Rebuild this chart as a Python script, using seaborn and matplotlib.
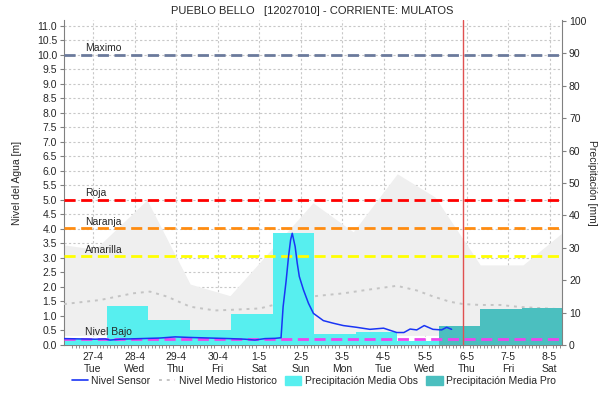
import numpy as np
import pandas as pd
import matplotlib
matplotlib.use('Agg')
import matplotlib.pyplot as plt
import seaborn as sns
from matplotlib.lines import Line2D
from matplotlib.patches import Patch

# x is measured in days, 0 = 27-4
tick_dates = ['27-4', '28-4', '29-4', '30-4', '1-5', '2-5', '3-5', '4-5', '5-5', '6-5', '7-5', '8-5']
tick_days = ['Tue', 'Wed', 'Thu', 'Fri', 'Sat', 'Sun', 'Mon', 'Tue', 'Wed', 'Thu', 'Fri', 'Sat']

sensor_x = [-0.70, -0.31, 0.05, 0.29, 0.41, 0.65, 1.13, 1.61, 1.98, 2.34, 2.82, 3.30, 3.66, 3.90,
            4.14, 4.39, 4.53, 4.58, 4.65, 4.71, 4.76, 4.80, 4.87, 4.92, 4.97, 5.07, 5.19, 5.31,
            5.55, 5.79, 6.03, 6.35, 6.67, 7.00, 7.32, 7.49, 7.64, 7.80, 7.98, 8.19, 8.40, 8.52, 8.64]
sensor_y = [0.22, 0.21, 0.20, 0.21, 0.17, 0.20, 0.22, 0.24, 0.28, 0.26, 0.24, 0.22, 0.20, 0.17,
            0.22, 0.23, 0.25, 1.32, 2.18, 3.04, 3.62, 3.85, 3.39, 2.82, 2.36, 1.90, 1.44, 1.09,
            0.84, 0.75, 0.67, 0.61, 0.54, 0.58, 0.43, 0.43, 0.55, 0.52, 0.67, 0.54, 0.52, 0.61, 0.54]

hist_x = [-0.70, 0.17, 0.96, 1.37, 1.78, 2.34, 2.94, 3.30, 4.02, 4.51, 4.99, 5.39, 6.03, 6.60,
          7.32, 7.80, 8.20, 8.60, 8.92, 9.33, 9.81, 10.29, 11.30]
hist_y = [1.41, 1.55, 1.78, 1.84, 1.67, 1.32, 1.19, 1.21, 1.26, 1.44, 1.61, 1.69, 1.78, 1.90,
          2.04, 1.88, 1.67, 1.49, 1.41, 1.38, 1.38, 1.31, 1.23]

band_x = [-0.70, 0.05, 1.30, 2.34, 3.30, 5.30, 6.27, 7.33, 8.24, 9.33, 10.36, 11.30]
band_hi = [3.45, 3.30, 5.00, 2.10, 1.70, 4.90, 3.90, 5.90, 5.10, 2.76, 2.76, 3.86]
band_lo = [0.33, 0.33, 0.33, 0.33, 0.33, 0.33, 0.33, 0.33, 0.33, 0.33, 0.33, 0.33]

obs_start = [-0.67, 0.33, 1.33, 2.33, 3.33, 4.33, 5.33, 6.33, 7.33]
obs_mm = [1.9, 12.1, 7.7, 4.6, 9.6, 34.6, 3.4, 4.1, 1.2]
pro_start = [8.33, 9.33, 10.33]
pro_mm = [5.9, 11.2, 11.5]

levels = [('Maximo', 10.0, '#6b7a9c'), ('Roja', 5.0, '#ff0000'), ('Naranja', 4.03, '#ff8c10'),
          ('Amarilla', 3.05, '#ffff00'), ('Nivel Bajo', 0.22, '#ee44ee')]
now_x = 8.92

sns.set_style('white')
plt.rcParams['font.family'] = ['Liberation Sans', 'DejaVu Sans']
plt.rcParams['font.size'] = 7.5

fig = plt.figure(figsize=(6.03, 4.0), dpi=100)
ax = fig.add_axes([64 / 603, 55 / 400, 498 / 603, 325 / 400])
ax2 = ax.twinx()
ax3 = ax.twinx()

xlim = (-0.70, 11.30)
ylim = (0, 11.2)

# background: historic band + mean
ax.fill_between(band_x, band_lo, band_hi, color='#efefef', lw=0, zorder=1)
sns.lineplot(x=hist_x, y=hist_y, ax=ax, color='#c4c4c4', lw=1.4, linestyle=(0, (1.5, 2.5)), zorder=3)
ax.set_xlim(xlim)
ax.set_ylim(ylim)
ax.set_yticks(np.arange(0, 11.01, 0.5))
ax.set_yticklabels(['%.1f' % v for v in np.arange(0, 11.01, 0.5)])
ax.set_xticks(range(len(tick_dates)))
ax.set_xticklabels([d + '\n' + w for d, w in zip(tick_dates, tick_days)])
ax.set_xticks(np.arange(-0.5, 11.3, 1 / 12), minor=True)
ax.grid(True, which='major', color='#c8c8c8', linestyle=(0, (2, 2)), lw=0.8)
ax.tick_params(axis='both', which='major', length=3, color='#808080', pad=2)
ax.tick_params(axis='x', which='minor', length=2, color='#808080', bottom=True)
ax.set_ylabel('Nivel del Agua [m]', labelpad=11)
for s in ['top', 'right']:
    ax.spines[s].set_visible(False)
for s in ['left', 'bottom']:
    ax.spines[s].set_color('#808080')

# precipitation bars
ax2.bar(obs_start, obs_mm, width=1.0, align='edge', color='#57efef', lw=0)
ax2.bar(pro_start, pro_mm, width=1.0, align='edge', color='#4bbfbf', lw=0)
ax2.set_ylim(0, 100.3)
ax2.set_yticks(range(0, 101, 10))
ax2.tick_params(axis='y', length=3, color='#808080', pad=2)
ax2.set_ylabel('Precipitación [mm]', rotation=270, labelpad=8)
ax2.spines['top'].set_visible(False)
ax2.spines['right'].set_color('#808080')
ax2.spines['left'].set_visible(False)
ax2.spines['bottom'].set_visible(False)

# thresholds, sensor, current time
ax3.set_ylim(ylim)
ax3.set_xlim(xlim)
ax3.yaxis.set_visible(False)
for s in ax3.spines.values():
    s.set_visible(False)
for name, val, col in levels:
    ax3.axhline(val, color=col, lw=2, linestyle=(0, (4, 2)))
    ax3.text(-0.19, val + 0.05, name, fontsize=7.5, va='bottom', ha='left')
sns.lineplot(x=sensor_x, y=sensor_y, ax=ax3, color='#1a35f5', lw=1.1)
ax3.axvline(now_x, color='#e05050', lw=1)
ax3.set_xlim(xlim)

fig.suptitle('PUEBLO BELLO   [12027010] - CORRIENTE: MULATOS', x=0.517, y=0.985, fontsize=8)

handles = [Line2D([], [], color='#1a35f5', lw=1.2),
           Line2D([], [], color='#c4c4c4', lw=1.4, linestyle=(0, (1.5, 2.5))),
           Patch(color='#57efef'), Patch(color='#4bbfbf')]
labels = ['Nivel Sensor', 'Nivel Medio Historico', 'Precipitación Media Obs', 'Precipitación Media Pro']
fig.legend(handles, labels, loc='center', bbox_to_anchor=(0.52, 0.047), ncol=4, frameon=False,
           fontsize=7.5, handlelength=1.6, handletextpad=0.3, columnspacing=0.8, handleheight=1.0)

fig.savefig('out.png', dpi=100)
